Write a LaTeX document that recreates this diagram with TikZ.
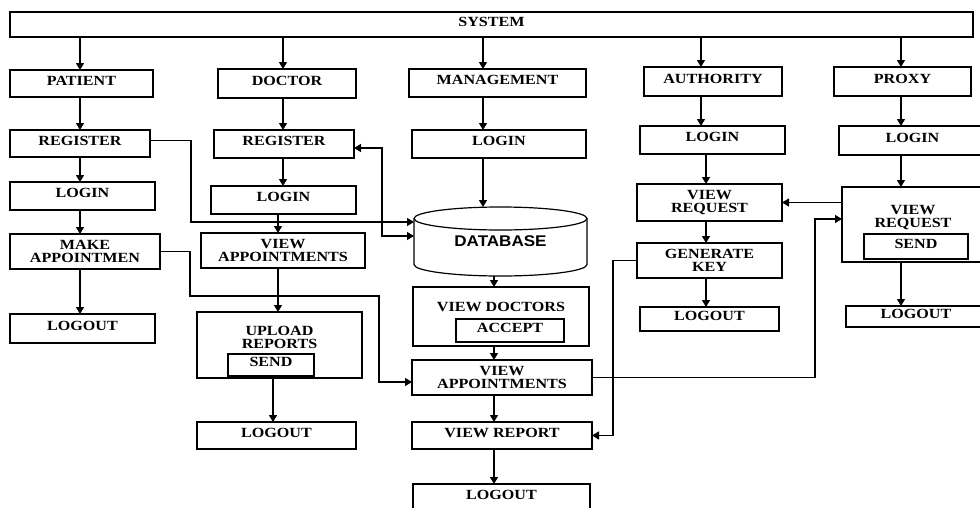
\documentclass[tikz,border=0pt]{standalone}
\usepackage{fontspec}
\setmainfont{Liberation Serif}[FakeStretch=1.15]
\newfontfamily\dbfont{Liberation Sans}[FakeStretch=1.1]
\usetikzlibrary{arrows.meta}
\begin{document}
\begin{tikzpicture}[x=1pt,y=-1pt,
  font=\fontsize{14}{13}\selectfont\bfseries,
  bx/.style={draw, line width=1.2pt, inner sep=0pt, outer sep=0pt, text height=9.5pt, text depth=6pt},
  bx2/.style={draw, line width=1.2pt, inner sep=0pt, outer sep=0pt, align=center},
  lbl/.style={inner sep=0pt, align=center},
  arr/.style={line width=1.2pt, -{Triangle[length=7pt,width=8pt]}},
  arrb/.style={line width=1.2pt, {Triangle[length=7pt,width=8pt]}-{Triangle[length=7pt,width=8pt]}}]
\useasboundingbox (0,0) rectangle (980,507);
\fill[white] (0,0) rectangle (980,507);

% top
\node[bx, minimum width=963, minimum height=25] (sys) at (491.5,24.5) {SYSTEM};

% patient column
\node[bx, minimum width=143, minimum height=27] (patient) at (81.5,83.5) {PATIENT};
\node[bx, minimum width=140, minimum height=27] (preg) at (80,143.5) {REGISTER};
\node[bx, minimum width=145, minimum height=28] (plog) at (82.5,196) {LOGIN};
\node[bx2, minimum width=150, minimum height=35] (pmake) at (85,251.5) {MAKE\\APPOINTMEN};
\node[bx, minimum width=145, minimum height=29] (plogout) at (82.5,328.5) {LOGOUT};

% doctor column
\node[bx, minimum width=138, minimum height=29] (doctor) at (287,83.5) {DOCTOR};
\node[bx, minimum width=140, minimum height=28] (dreg) at (284,144) {REGISTER};
\node[bx, minimum width=145, minimum height=28] (dlogin) at (283.5,200) {LOGIN};
\node[bx2, minimum width=164, minimum height=35] (dva) at (283,250.5) {VIEW\\APPOINTMENTS};
\node[draw, line width=1.2pt, inner sep=0pt, outer sep=0pt, minimum width=165, minimum height=66] (dup) at (279.5,345) {};
\node[lbl] (duplbl) at (279.5,337) {UPLOAD\\REPORTS};
\node[bx, minimum width=86, minimum height=22] (dsend) at (271,365) {SEND};
\node[bx, minimum width=159, minimum height=27] (dlogout) at (276.5,435.5) {LOGOUT};

% management column
\node[bx, minimum width=177, minimum height=28] (mgmt) at (497.5,83) {MANAGEMENT};
\node[bx, minimum width=174, minimum height=28] (mlogin) at (499,144) {LOGIN};
\node[inner sep=0pt, outer sep=0pt, minimum width=173, minimum height=69] (db) at (500.5,241.5) {\dbfont\bfseries\fontsize{15.5}{15}\selectfont DATABASE};
\draw[line width=1.2pt] (500.5,218.5) ellipse [x radius=86.5, y radius=11.5];
\draw[line width=1.2pt] (414,218.5) -- (414,264.5) arc[start angle=180, end angle=0, x radius=86.5, y radius=11.5] -- (587,218.5);
\node[draw, line width=1.2pt, inner sep=0pt, outer sep=0pt, minimum width=176, minimum height=59] (vd) at (501,316.5) {};
\node[lbl] (vdlbl) at (501,307) {VIEW DOCTORS};
\node[bx, minimum width=108, minimum height=23] (acc) at (510,330.5) {ACCEPT};
\node[bx2, minimum width=180, minimum height=35] (mva) at (502,377.5) {VIEW\\APPOINTMENTS};
\node[bx, minimum width=180, minimum height=27] (vr) at (502,435.5) {VIEW REPORT};
\node[bx, minimum width=177, minimum height=28] (mlogout) at (501.5,498) {LOGOUT};

% authority column
\node[bx, minimum width=138, minimum height=29] (auth) at (713,81.5) {AUTHORITY};
\node[bx, minimum width=145, minimum height=28] (alogin) at (712.5,140) {LOGIN};
\node[bx2, minimum width=145, minimum height=37] (avr) at (709.5,202.5) {VIEW\\REQUEST};
\node[bx2, minimum width=145, minimum height=35] (gk) at (709.5,260.5) {GENERATE\\KEY};
\node[bx, minimum width=139, minimum height=24] (alogout) at (709.5,319) {LOGOUT};

% proxy column
\node[bx, minimum width=137, minimum height=29] (proxy) at (902.5,81.5) {PROXY};
\node[bx, minimum width=147, minimum height=29] (plogin) at (912.5,140.5) {LOGIN};
\node[draw, line width=1.2pt, inner sep=0pt, outer sep=0pt, minimum width=144, minimum height=75] (pvr) at (914,224.5) {};
\node[lbl] (pvrlbl) at (913,217.5) {VIEW\\REQUEST};
\node[bx, minimum width=104, minimum height=25] (psend) at (916,246.5) {SEND};
\node[bx, minimum width=140, minimum height=21] (plogout2) at (916,316.5) {LOGOUT};

% column positions
\coordinate (cP) at (80,0);
\coordinate (cD1) at (283,0);
\coordinate (cD2) at (278,0);
\coordinate (cD3) at (273,0);
\coordinate (cM1) at (483,0);
\coordinate (cM2) at (494,0);
\coordinate (cA1) at (701,0);
\coordinate (cA2) at (706,0);
\coordinate (cX) at (901,0);

% patient arrows
\draw[arr] (sys.south -| cP) -- (patient.north -| cP);
\draw[arr] (patient.south -| cP) -- (preg.north -| cP);
\draw[arr] (preg.south -| cP) -- (plog.north -| cP);
\draw[arr] (plog.south -| cP) -- (pmake.north -| cP);
\draw[arr] (pmake.south -| cP) -- (plogout.north -| cP);

% doctor arrows
\draw[arr] (sys.south -| cD1) -- (doctor.north -| cD1);
\draw[arr] (doctor.south -| cD1) -- (dreg.north -| cD1);
\draw[arr] (dreg.south -| cD1) -- (dlogin.north -| cD1);
\draw[arr] (dlogin.south -| cD2) -- (dva.north -| cD2);
\draw[arr] (dva.south -| cD2) -- (dup.north -| cD2);
\draw[arr] (dup.south -| cD3) -- (dlogout.north -| cD3);

% management arrows
\draw[arr] (sys.south -| cM1) -- (mgmt.north -| cM1);
\draw[arr] (mgmt.south -| cM1) -- (mlogin.north -| cM1);
\draw[arr] (mlogin.south -| cM1) -- (db.north -| cM1);
\draw[arr] (db.south -| cM2) -- (vd.north -| cM2);
\draw[arr] (vd.south -| cM2) -- (mva.north -| cM2);
\draw[arr] (mva.south -| cM2) -- (vr.north -| cM2);
\draw[arr] (vr.south -| cM2) -- (mlogout.north -| cM2);

% authority arrows
\draw[arr] (sys.south -| cA1) -- (auth.north -| cA1);
\draw[arr] (auth.south -| cA1) -- (alogin.north -| cA1);
\draw[arr] (alogin.south -| cA2) -- (avr.north -| cA2);
\draw[arr] (avr.south -| cA2) -- (gk.north -| cA2);
\draw[arr] (gk.south -| cA2) -- (alogout.north -| cA2);

% proxy arrows
\draw[arr] (sys.south -| cX) -- (proxy.north -| cX);
\draw[arr] (proxy.south -| cX) -- (plogin.north -| cX);
\draw[arr] (plogin.south -| cX) -- (pvr.north -| cX);
\draw[arr] (pvr.south -| cX) -- (plogout2.north -| cX);

% cross connectors
\coordinate (b1) at (191,222);
\draw[arr] ([yshift=3pt]preg.east) -| (b1) -- (b1 -| db.west);
\coordinate (b2) at (382,236);
\draw[arrb] ([yshift=-4pt]dreg.east) -| (b2) -- (b2 -| db.west);
\coordinate (b3) at (190,296);
\coordinate (b4) at (379,296);
\draw[arr] (pmake.east) -| (b3) -- (b4) |- ([yshift=-4.5pt]mva.west);
\coordinate (b5) at (815,219);
\draw[arr] (mva.east) -| (b5) -- (b5 -| pvr.west);
\coordinate (b6) at (613,0);
\draw[arr] (gk.west) -| (b6 |- vr.east) -- (vr.east);
\draw[arr] (pvr.west |- avr.east) -- (avr.east);
\end{tikzpicture}
\end{document}
